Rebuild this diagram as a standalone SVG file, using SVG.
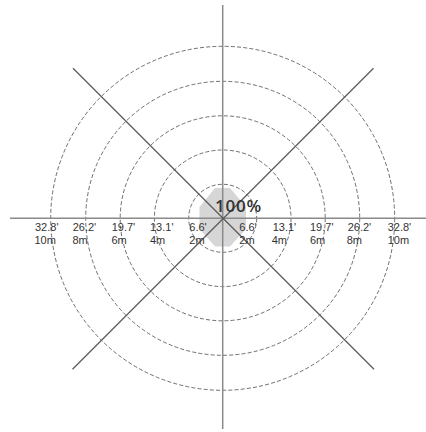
<svg xmlns="http://www.w3.org/2000/svg" width="426" height="432" viewBox="0 0 426 432">
<style>
.ring{fill:none;stroke:#4a4a4a;stroke-width:0.8;stroke-dasharray:4 2.2}
.axis{stroke:#8a8a8a;stroke-width:1.5}
.diag{stroke:#5a5a5a;stroke-width:1.3}
.lbl{font-family:"Liberation Sans",Arial,sans-serif;font-size:11px;fill:#333}
.pct{font-family:"Open Sans","Liberation Sans",sans-serif;font-size:17px;font-weight:600;fill:#333;letter-spacing:0.8px}
</style>
<rect width="426" height="432" fill="#fff"/>
<g id="spot">
<polygon points="215,188 230,188 246,207 246,229 230,246.5 215,246.5 199.5,229 199.5,207" fill="#d6d6d6"/>
</g>
<g id="rings">
<circle class="ring" cx="222.7" cy="218.3" r="34"/>
<circle class="ring" cx="222.7" cy="218.3" r="68.3"/>
<circle class="ring" cx="222.7" cy="218.3" r="102.5"/>
<circle class="ring" cx="222.7" cy="218.3" r="137"/>
<circle class="ring" cx="222.7" cy="218.3" r="172"/>
</g>
<g id="connectors">
<line class="axis" x1="10" y1="218.3" x2="426" y2="218.3"/>
<line class="axis" x1="222.7" y1="5" x2="222.7" y2="429"/>
<line class="diag" x1="73" y1="68.3" x2="374" y2="369.3"/>
<line class="diag" x1="373.5" y1="68.3" x2="72.5" y2="369.3"/>
</g>
<g id="center-label">
<text class="pct" x="215" y="212">100%</text>
</g>
<g id="labels">
<text class="lbl" x="35" y="230.5">32.8'</text><text class="lbl" x="34.5" y="243.5">10m</text>
<text class="lbl" x="72.7" y="230.5">26.2'</text><text class="lbl" x="72.5" y="243.5">8m</text>
<text class="lbl" x="111.7" y="230.5">19.7'</text><text class="lbl" x="111.5" y="243.5">6m</text>
<text class="lbl" x="150" y="230.5">13.1'</text><text class="lbl" x="150" y="243.5">4m</text>
<text class="lbl" x="189.3" y="230.5">6.6'</text><text class="lbl" x="189.3" y="243.5">2m</text>
<text class="lbl" x="239.3" y="230.5">6.6'</text><text class="lbl" x="239.3" y="243.5">2m</text>
<text class="lbl" x="272.7" y="230.5">13.1'</text><text class="lbl" x="271.7" y="243.5">4m</text>
<text class="lbl" x="310" y="230.5">19.7'</text><text class="lbl" x="310" y="243.5">6m</text>
<text class="lbl" x="347.7" y="230.5">26.2'</text><text class="lbl" x="346.7" y="243.5">8m</text>
<text class="lbl" x="387.7" y="230.5">32.8'</text><text class="lbl" x="387.7" y="243.5">10m</text>
</g>
</svg>
